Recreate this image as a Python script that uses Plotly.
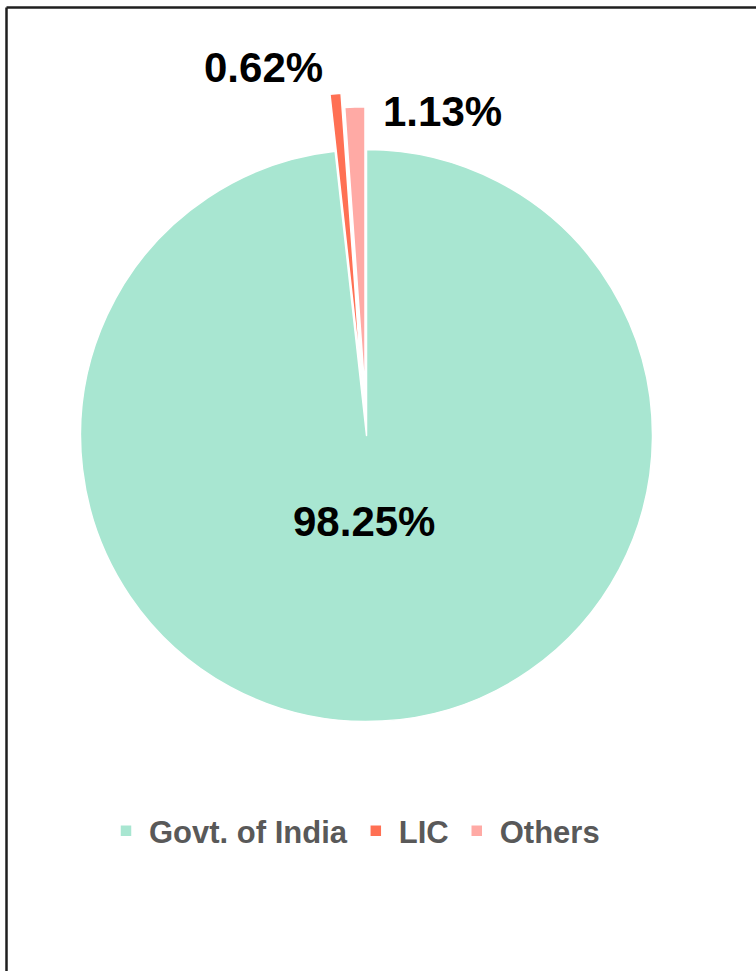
import plotly.graph_objects as go

# shareholding split (percent)
labels = ["Govt. of India", "LIC", "Others"]
values = [98.25, 0.62, 1.13]
colors = ["#A8E6D1", "#FF7054", "#FFAAA5"]
pulls = [0.0, 0.20, 0.15]

FONT = "Liberation Sans, Arial, sans-serif"
W, H = 756, 971

fig = go.Figure()
fig.add_trace(
    go.Pie(
        labels=labels,
        values=values,
        sort=False,
        direction="clockwise",
        rotation=0,
        pull=pulls,
        marker={"colors": colors, "line": {"color": "white", "width": 1.5}},
        textinfo="none",
        domain={"x": [0.0308, 0.9388], "y": [0.198, 0.9049]},
        hoverinfo="label+percent",
    )
)

# data labels, placed by hand like in the source (pixel centres)
label_pos = [(363.5, 521.7), (263.5, 67.5), (443, 111.5)]
for v, (px, py) in zip(values, label_pos):
    fig.add_annotation(
        text=f"{v:.2f}%", x=px / W, y=1 - py / H, xref="paper", yref="paper",
        showarrow=False, xanchor="center", yanchor="middle",
        font={"family": FONT, "size": 42, "color": "black", "weight": "bold"},
    )

# frame of the chart area (only left and top edges are visible)
fx, fy = 6.5, 7.5
fig.add_shape(type="line", xref="paper", yref="paper",
              x0=fx / W, x1=fx / W, y0=-0.1, y1=1 - fy / H,
              line={"color": "#1f1f1f", "width": 2.5})
fig.add_shape(type="line", xref="paper", yref="paper",
              x0=fx / W, x1=1.1, y0=1 - fy / H, y1=1 - fy / H,
              line={"color": "#1f1f1f", "width": 2.5})

fig.update_layout(
    width=W,
    height=H,
    margin={"l": 0, "r": 0, "t": 0, "b": 0},
    paper_bgcolor="white",
    plot_bgcolor="white",
    showlegend=True,
    legend={
        "orientation": "h",
        "x": 354 / W,
        "xanchor": "center",
        "y": 1 - 831 / H,
        "yanchor": "middle",
        "itemwidth": 36,
        "font": {"family": FONT, "size": 31, "color": "#595959", "weight": "bold"},
    },
)

# the page body has an 8px margin by default; drop it so pixels line up
fig.write_html(
    "out.html",
    config={"displayModeBar": False},
    post_script="document.body.style.margin='0';",
)
